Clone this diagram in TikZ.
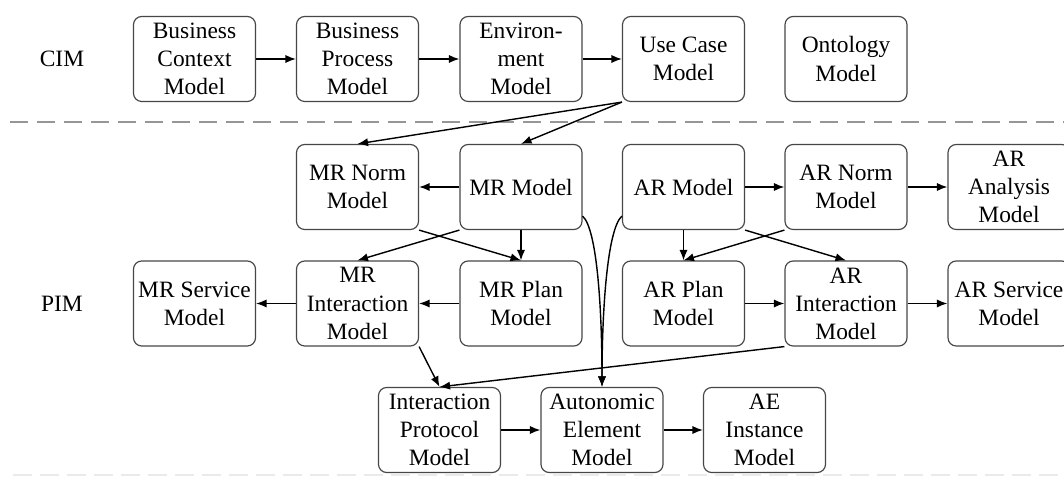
\documentclass[tikz,border=0pt]{standalone}
\usepackage{fontspec}
\setmainfont{Liberation Serif}
\usetikzlibrary{arrows.meta}
\definecolor{boxgray}{RGB}{70,70,70}
\definecolor{sepgray}{RGB}{150,150,150}
\definecolor{faintgray}{RGB}{234,234,234}

\begin{document}
\begin{tikzpicture}[
  mdlbox/.style={draw=boxgray,line width=1pt,rounded corners=7pt,
        minimum width=3.66cm,minimum height=2.55cm,inner sep=1pt,
        align=center,font=\fontsize{20}{24}\selectfont},
  lvl/.style={font=\fontsize{20}{24}\selectfont},
  arr/.style={-{Latex[length=9pt,width=7pt]},line width=1.2pt}]
  \useasboundingbox (0,0) rectangle (31.92,14.43);
  \clip (0,0) rectangle (31.92,14.43);

  % level separators
  \draw[sepgray,line width=2.4pt,dash pattern=on 0.55cm off 0.26cm] (0.3,10.77) -- (31.92,10.77);
  \draw[faintgray,line width=1.5pt,dash pattern=on 0.55cm off 0.26cm] (0.4,0.18) -- (31.92,0.18);

  \node[lvl] (cim) at (1.86,12.66) {CIM};
  \node[lvl] (pim) at (1.86,5.325) {PIM};

  % CIM row
  \node[mdlbox] (bcm) at (5.835,12.66) {Business\\Context\\Model};
  \node[mdlbox] (bpm) at (10.725,12.66) {Business\\Process\\Model};
  \node[mdlbox] (env) at (15.63,12.66) {Environ-\\ment\\Model};
  \node[mdlbox] (uc) at (20.505,12.66) {Use Case\\Model};
  \node[mdlbox] (ont) at (25.38,12.66) {Ontology\\Model};

  % PIM rows
  \node[mdlbox] (mrn) at (10.725,8.82) {MR Norm\\Model};
  \node[mdlbox] (mrm) at (15.63,8.82) {MR Model};
  \node[mdlbox] (arm) at (20.505,8.82) {AR Model};
  \node[mdlbox] (arn) at (25.38,8.82) {AR Norm\\Model};
  \node[mdlbox] (ara) at (30.27,8.82) {AR\\Analysis\\Model};

  \node[mdlbox] (mrs) at (5.835,5.325) {MR Service\\Model};
  \node[mdlbox] (mri) at (10.725,5.325) {MR\\Interaction\\Model};
  \node[mdlbox] (mrp) at (15.63,5.325) {MR Plan\\Model};
  \node[mdlbox] (arp) at (20.505,5.325) {AR Plan\\Model};
  \node[mdlbox] (ari) at (25.38,5.325) {AR\\Interaction\\Model};
  \node[mdlbox] (ars) at (30.27,5.325) {AR Service\\Model};

  \node[mdlbox] (ipm) at (13.185,1.53) {Interaction\\Protocol\\Model};
  \node[mdlbox] (aem) at (18.06,1.53) {Autonomic\\Element\\Model};
  \node[mdlbox] (aei) at (22.935,1.53) {AE\\Instance\\Model};

  % connectors
  \draw[arr] (bcm.east) -- (bpm.west);
  \draw[arr] (bpm.east) -- (env.west);
  \draw[arr] (env.east) -- (uc.west);
  \draw[arr] (uc.south west) -- (mrn.north);
  \draw[arr] (uc.south west) -- (mrm.north);

  \draw[arr] (mrm.west) -- (mrn.east);
  \draw[arr] (mrn.south east) -- (mrp.north);
  \draw[arr] (mrm.south west) -- (mri.north);
  \draw[arr] (mrm.south) -- (mrp.north);
  \draw[arr] (mrp.west) -- (mri.east);
  \draw[arr] (mri.west) -- (mrs.east);

  \draw[arr] (arm.east) -- (arn.west);
  \draw[arr] (arn.east) -- (ara.west);
  \draw[arr] (arm.south) -- (arp.north);
  \draw[arr] (arn.south west) -- (arp.north);
  \draw[arr] (arm.south east) -- (ari.north);
  \draw[arr] (arp.east) -- (ari.west);
  \draw[arr] (ari.east) -- (ars.west);

  \draw[arr] (mri.south east) -- (ipm.north);
  \draw[arr] (ari.south west) -- (ipm.north);
  \draw[arr] ([yshift=0.42cm]mrm.south east) .. controls +(0.45,-0.4) and +(0,2.2) .. (aem.north);
  \draw[arr] ([yshift=0.42cm]arm.south west) .. controls +(-0.45,-0.4) and +(0,2.2) .. (aem.north);
  \draw[arr] (ipm.east) -- (aem.west);
  \draw[arr] (aem.east) -- (aei.west);
\end{tikzpicture}
\end{document}
